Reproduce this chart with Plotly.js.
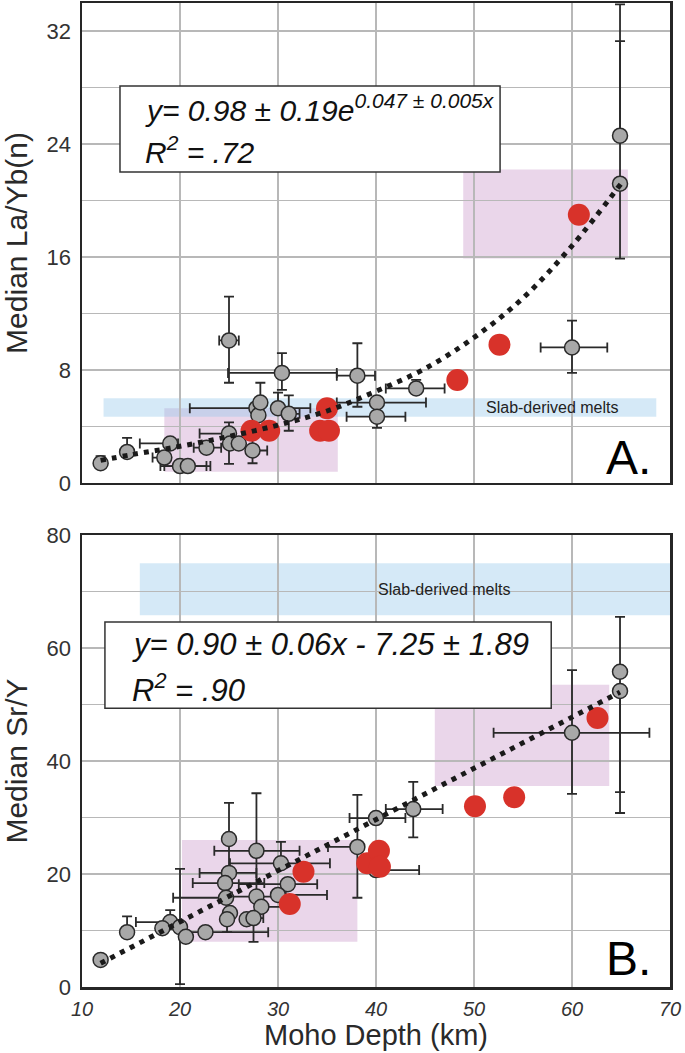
<!DOCTYPE html>
<html>
<head>
<meta charset="utf-8">
<script src="https://cdn.plot.ly/plotly-3.0.1.min.js"></script>
<style>html,body{margin:0;padding:0;background:#fff;}#chart{width:685px;height:1053px;}</style>
</head>
<body>
<div id="chart"></div>
<script>
// ---------- Panel A: Median La/Yb(n) ----------
var greyA_x = [11.9, 14.6, 18.4, 19.0, 20.0, 20.8, 22.7, 25.0, 25.1, 26.0, 27.4, 25.0, 27.8, 28.0, 28.2, 30.0, 30.4, 31.1, 38.1, 40.1, 40.1, 44.1, 60.0, 64.9, 64.9];
var greyA_y = [1.4, 2.2, 1.8, 2.8, 1.2, 1.2, 2.5, 3.5, 2.8, 2.8, 2.3, 10.1, 5.3, 4.8, 5.7, 5.3, 7.8, 4.9, 7.6, 5.7, 4.7, 6.7, 9.6, 24.6, 21.2];
var greyA_eyPlus  = [0.5, 1.0, 0, 0, 0, 0, 0, 0.8, 0, 0, 1.0, 3.1, 0, 0, 1.4, 1.1, 1.4, 1.3, 2.3, 0, 0, 0.6, 1.9, 6.7, 12.7];
var greyA_eyMinus = [0.3, 0, 0, 0, 0, 0, 0, 2.15, 0, 0, 0.9, 3.0, 0, 0, 0, 0, 1.2, 1.2, 2.2, 0, 0.8, 0.4, 1.8, 0, 5.3];
var greyA_exPlus  = [0, 0, 0, 0.8, 2.7, 2.3, 1.5, 0, 0, 0, 1.5, 1.0, 0, 0, 0, 3.3, 5.6, 1.1, 1.8, 5.0, 2.9, 2.9, 3.6, 0, 0];
var greyA_exMinus = [0, 0, 1.2, 3.1, 2.0, 2.4, 1.3, 3.0, 0, 0, 0, 1.0, 6.8, 0, 0, 0, 5.5, 0, 2.1, 4.1, 3.1, 3.1, 3.2, 0, 0];
var redA_x = [27.3, 29.1, 34.3, 35.0, 35.2, 48.3, 52.6, 60.7];
var redA_y = [3.7, 3.7, 3.7, 5.3, 3.7, 7.3, 9.8, 19.0];
var fitA_x = [11.9, 15, 20, 25, 30, 35, 40, 45, 50, 55, 60, 65];
var fitA_y = [1.6, 2.0, 2.6, 3.3, 4.1, 5.1, 6.5, 8.1, 10.3, 13.1, 16.8, 21.2];
var slabA_x = [12.2, 68.6], slabA_y = [4.7, 6.0];
var pinkA1_x = [18.4, 36.1], pinkA1_y = [0.8, 5.3];
var pinkA2_x = [48.9, 65.7], pinkA2_y = [15.9, 22.2];
var ticksA = [0, 8, 16, 24, 32];

// ---------- Panel B: Median Sr/Y ----------
var greyB_x = [11.9, 14.6, 19.0, 18.2, 20.0, 20.6, 22.6, 25.0, 25.0, 24.6, 24.7, 25.1, 24.8, 27.8, 27.8, 28.3, 26.8, 27.5, 30.3, 31.0, 30.0, 38.1, 40.0, 40.0, 43.8, 60.0, 64.9, 64.9];
var greyB_y = [4.8, 9.7, 11.5, 10.4, 10.6, 8.9, 9.7, 26.2, 20.2, 18.4, 15.8, 13.1, 12.0, 24.1, 16.0, 14.2, 12.0, 12.2, 21.9, 18.2, 16.3, 24.8, 29.9, 20.7, 31.5, 45.0, 55.8, 52.4];
var greyB_eyPlus  = [0, 2.8, 2.1, 0, 10.3, 0, 0, 6.4, 0, 0, 0, 0, 0, 10.2, 0, 0, 0, 0, 3.8, 0, 0, 9.2, 0, 0, 4.8, 11.1, 9.7, 0];
var greyB_eyMinus = [0, 0, 0, 0, 10.1, 0, 0, 6.0, 0, 0, 0, 0, 2.3, 8.0, 0, 0, 0, 4.2, 0, 0, 0, 9.0, 0, 0, 5.0, 10.8, 25.0, 17.9];
var greyB_exPlus  = [0, 0, 0, 0, 0, 0, 6.4, 0, 2.8, 4.0, 0, 0, 0, 4.4, 3.0, 2.6, 0, 1.0, 5.0, 3.0, 5.0, 0, 3.0, 4.4, 3.0, 7.9, 0, 0];
var greyB_exMinus = [0, 0, 3.5, 0, 0, 0, 2.6, 0, 3.0, 3.3, 5.4, 0, 0, 4.3, 2.5, 0, 0, 1.0, 5.2, 5.0, 0, 3.0, 2.7, 0, 2.8, 8.0, 0, 0];
var redB_x = [31.2, 32.6, 39.1, 40.3, 40.4, 50.1, 54.1, 62.6];
var redB_y = [14.7, 20.4, 21.9, 24.1, 21.3, 32.0, 33.6, 47.6];
var fitB_x = [11.9, 64.9];
var fitB_y = [4.2, 52.2];
var slabB_x = [15.9, 70], slabB_y = [65.8, 75.0];
var pinkB1_x = [20.2, 38.1], pinkB1_y = [8.0, 26.0];
var pinkB2_x = [46.0, 63.8], pinkB2_y = [35.6, 53.5];
var ticksB = [0, 20, 40, 60, 80];

var xTicks = [10, 20, 30, 40, 50, 60, 70];
var xTickText = ['10', '20', '30', '40', '50', '60', '70'];

var FONT = 'Liberation Sans, Arial, Helvetica, sans-serif';
var GREY = '#a8a8a8', RED = '#d8322a', DARK = '#2a2a2a';

function greyTrace(x, y, eyp, eym, exp, exm, xa, ya) {
  return {
    type: 'scatter', mode: 'markers', x: x, y: y, xaxis: xa, yaxis: ya,
    marker: {color: GREY, size: 15, line: {color: DARK, width: 1.5}},
    error_y: {type: 'data', symmetric: false, array: eyp, arrayminus: eym, color: DARK, thickness: 1.8, width: 5},
    error_x: {type: 'data', symmetric: false, array: exp, arrayminus: exm, color: DARK, thickness: 1.8, width: 5},
    hoverinfo: 'x+y'
  };
}
function redTrace(x, y, xa, ya) {
  return {type: 'scatter', mode: 'markers', x: x, y: y, xaxis: xa, yaxis: ya,
    marker: {color: RED, size: 22, line: {width: 0}}};
}
function fitTrace(x, y, xa, ya, spline) {
  return {type: 'scatter', mode: 'lines', x: x, y: y, xaxis: xa, yaxis: ya,
    line: {color: '#1a1a1a', width: 5, dash: '5px,6px', shape: spline ? 'spline' : 'linear'}};
}

var data = [
  greyTrace(greyA_x, greyA_y, greyA_eyPlus, greyA_eyMinus, greyA_exPlus, greyA_exMinus, 'x', 'y'),
  redTrace(redA_x, redA_y, 'x', 'y'),
  fitTrace(fitA_x, fitA_y, 'x', 'y', true),
  greyTrace(greyB_x, greyB_y, greyB_eyPlus, greyB_eyMinus, greyB_exPlus, greyB_exMinus, 'x2', 'y2'),
  redTrace(redB_x, redB_y, 'x2', 'y2'),
  fitTrace(fitB_x, fitB_y, 'x2', 'y2', false)
];

function box(xs, ys, xr, yr, fill) {
  return {type: 'rect', xref: xr, yref: yr, x0: xs[0], x1: xs[1], y0: ys[0], y1: ys[1],
    fillcolor: fill, line: {width: 0}, layer: 'below'};
}
var PINK = 'rgba(190,130,190,0.33)', BLUE = 'rgba(150,200,235,0.40)';

var shapes = [
  box(pinkA1_x, pinkA1_y, 'x', 'y', PINK),
  box(pinkA2_x, pinkA2_y, 'x', 'y', PINK),
  box(slabA_x, slabA_y, 'x', 'y', BLUE),
  box(pinkB1_x, pinkB1_y, 'x2', 'y2', PINK),
  box(pinkB2_x, pinkB2_y, 'x2', 'y2', PINK),
  box(slabB_x, slabB_y, 'x2', 'y2', BLUE),
  {type: 'rect', xref: 'x domain', yref: 'y domain', x0: 0.0646, x1: 0.711, y0: 0.648, y1: 0.827,
   fillcolor: 'white', line: {color: '#333', width: 1.5}, layer: 'above'},
  {type: 'rect', xref: 'x2 domain', yref: 'y2 domain', x0: 0.039, x1: 0.798, y0: 0.617, y1: 0.8075,
   fillcolor: 'white', line: {color: '#333', width: 1.5}, layer: 'above'}
];

var annotations = [
  {xref: 'x', yref: 'y', x: (slabA_x[0] + slabA_x[1]) / 2 + 17.6, y: (slabA_y[0] + slabA_y[1]) / 2,
   text: 'Slab-derived melts', showarrow: false, font: {family: FONT, size: 16, color: '#222'}},
  {xref: 'x2', yref: 'y2', x: (slabB_x[0] + slabB_x[1]) / 2 + 4, y: (slabB_y[0] + slabB_y[1]) / 2,
   text: 'Slab-derived melts', showarrow: false, font: {family: FONT, size: 16, color: '#222'}},
  {xref: 'x domain', yref: 'y domain', x: 0.104, y: 0.782, xanchor: 'left', yanchor: 'middle',
   text: '<i>y= 0.98 ± 0.19e<sup>0.047 ± 0.005x</sup></i>', showarrow: false, font: {family: FONT, size: 30, color: '#111'}},
  {xref: 'x domain', yref: 'y domain', x: 0.104, y: 0.694, xanchor: 'left', yanchor: 'middle',
   text: '<i>R<sup>2</sup> = .72</i>', showarrow: false, font: {family: FONT, size: 30, color: '#111'}},
  {xref: 'x2 domain', yref: 'y2 domain', x: 0.082, y: 0.757, xanchor: 'left', yanchor: 'middle',
   text: '<i>y= 0.90 ± 0.06x - 7.25 ± 1.89</i>', showarrow: false, font: {family: FONT, size: 31, color: '#111'}},
  {xref: 'x2 domain', yref: 'y2 domain', x: 0.082, y: 0.661, xanchor: 'left', yanchor: 'middle',
   text: '<i>R<sup>2</sup> = .90</i>', showarrow: false, font: {family: FONT, size: 31, color: '#111'}},
  {xref: 'x domain', yref: 'y domain', x: 0.971, y: 0.054, xanchor: 'right', yanchor: 'middle',
   text: 'A.', showarrow: false, font: {family: FONT, size: 48, color: '#000'}},
  {xref: 'x2 domain', yref: 'y2 domain', x: 0.971, y: 0.064, xanchor: 'right', yanchor: 'middle',
   text: 'B.', showarrow: false, font: {family: FONT, size: 48, color: '#000'}}
];

var GRIDC = '#b8b8b8';
var axisCommon = {
  showgrid: true, gridcolor: GRIDC, gridwidth: 1.5, zeroline: false,
  showline: true, mirror: true, linecolor: '#262626', linewidth: 2.5, ticks: ''
};
function ax(extra) { return Object.assign({}, axisCommon, extra); }

var layout = {
  width: 685, height: 1053,
  margin: {l: 82, r: 15, t: 3, b: 66},
  paper_bgcolor: 'white', plot_bgcolor: 'white',
  showlegend: false,
  font: {family: FONT, color: '#333'},
  xaxis: ax({domain: [0, 1], anchor: 'y', range: [10, 70], tickmode: 'array', tickvals: xTicks, showticklabels: false}),
  yaxis: ax({domain: [0.5122, 1], anchor: 'x', range: [0, 34], tickmode: 'array', tickvals: ticksA,
    minor: {dtick: 4, tick0: 0, showgrid: true, gridcolor: GRIDC, gridwidth: 1.5, ticks: ''},
    tickfont: {family: FONT, size: 22, color: '#333'}, ticklabelstandoff: 4,
    title: {text: 'Median La/Yb(n)', font: {family: FONT, size: 30, color: '#2a2a2a'}, standoff: 11}}),
  xaxis2: ax({domain: [0, 1], anchor: 'y2', range: [10, 70], tickmode: 'array', tickvals: xTicks, ticktext: xTickText,
    tickfont: {family: FONT, size: 20, color: '#333', style: 'italic'}, ticklabelstandoff: 2,
    title: {text: 'Moho Depth (km)', font: {family: FONT, size: 29, color: '#2a2a2a'}, standoff: 4}}),
  yaxis2: ax({domain: [0, 0.4593], anchor: 'x2', range: [0, 80], tickmode: 'array', tickvals: ticksB,
    minor: {dtick: 10, tick0: 0, showgrid: true, gridcolor: GRIDC, gridwidth: 1.5, ticks: ''},
    tickfont: {family: FONT, size: 22, color: '#333'}, ticklabelstandoff: 4,
    title: {text: 'Median Sr/Y', font: {family: FONT, size: 30, color: '#2a2a2a'}, standoff: 11}}),
  shapes: shapes,
  annotations: annotations
};

Plotly.newPlot('chart', data, layout, {displayModeBar: false, staticPlot: true});
</script>
</body>
</html>
